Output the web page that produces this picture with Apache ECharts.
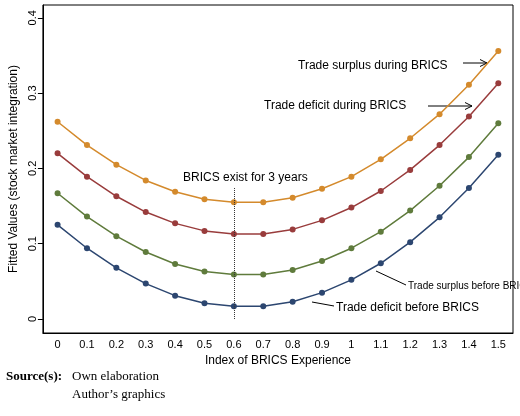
<!DOCTYPE html><html><head><meta charset="utf-8"><script src="https://cdn.jsdelivr.net/npm/echarts@6/dist/echarts.min.js"></script>
<style>body{margin:0}#c{width:520px;height:416px}</style></head><body><div id="c"></div><script>
const categories=['0','0.1','0.2','0.3','0.4','0.5','0.6','0.7','0.8','0.9','1','1.1','1.2','1.3','1.4','1.5'];
const surplusDuring=[0.262,0.231,0.205,0.184,0.169,0.159,0.155,0.155,0.161,0.173,0.189,0.212,0.240,0.272,0.311,0.356];
const deficitDuring=[0.220,0.189,0.163,0.142,0.127,0.117,0.113,0.113,0.119,0.131,0.148,0.170,0.198,0.231,0.269,0.313];
const surplusBefore=[0.167,0.136,0.110,0.089,0.073,0.063,0.059,0.059,0.065,0.077,0.094,0.116,0.144,0.177,0.215,0.260];
const deficitBefore=[0.125,0.094,0.068,0.047,0.031,0.021,0.017,0.017,0.023,0.035,0.052,0.074,0.102,0.135,0.174,0.218];
const yTicks=[0,0.1,0.2,0.3,0.4];
const c=echarts.init(document.getElementById('c'));
const ff='Liberation Sans';
function s(name,d,col){return {name,type:'line',data:d,symbol:'circle',symbolSize:6,itemStyle:{color:col},lineStyle:{color:col,width:1.5},z:3};}
function arrow(x1,y1,x2,y2){return [{type:'line',shape:{x1,y1,x2,y2},style:{stroke:'#000',lineWidth:1}},
 {type:'polyline',shape:{points:[[x2-7,y2-3.5],[x2,y2],[x2-7,y2+3.5]]},style:{stroke:'#000',fill:null,lineWidth:1}}];}
function txt(x,y,t,fs){return {type:'text',x,y,style:{text:t,font:(fs||12)+'px '+ff,fill:'#000',textVerticalAlign:'middle'}};}
c.setOption({animation:false,backgroundColor:'#fff',
grid:{left:20,right:7,top:5,bottom:83,show:true,borderColor:'#000',borderWidth:1},
xAxis:{type:'category',data:categories,boundaryGap:true,name:'Index of BRICS Experience',nameLocation:'middle',nameGap:22,
 nameTextStyle:{fontFamily:ff,fontSize:12,color:'#000'},axisLine:{onZero:false,lineStyle:{color:'#000'}},
 axisTick:{alignWithLabel:true,lineStyle:{color:'#000'}},axisLabel:{fontFamily:ff,fontSize:11,color:'#000',interval:0,margin:6}},
yAxis:{type:'value',min:-0.0186,max:0.417,name:'Fitted Values (stock market integration)',nameLocation:'middle',nameGap:-2,
 nameTextStyle:{fontFamily:ff,fontSize:12,color:'#000'},splitLine:{show:false},axisLine:{show:true,lineStyle:{color:'#000'}},
 axisTick:{show:true,customValues:yTicks,lineStyle:{color:'#000'}},
 axisLabel:{customValues:yTicks,rotate:90,fontFamily:ff,fontSize:11,color:'#000',formatter:v=>String(+v.toFixed(1)),margin:4,showMinLabel:true,showMaxLabel:true}},
series:[s('a',surplusDuring,'#d48a2c'),s('b',deficitDuring,'#993c3c'),s('c',surplusBefore,'#5f7b3c'),s('d',deficitBefore,'#2c4670'),
 {type:'line',data:[],markLine:{silent:true,symbol:'none',label:{show:false},lineStyle:{type:'dotted',color:'#333',width:1},
  data:[[{coord:['0.6',0]},{coord:['0.6',0.175]}]]}}],
graphic:[txt(183,178,'BRICS exist for 3 years'),
 txt(298,66,'Trade surplus during BRICS'),...arrow(463,63,487,63),
 txt(264,106,'Trade deficit during BRICS'),...arrow(428,106,472,106),
 txt(408,286,'Trade surplus before BRICS',10),{type:'line',shape:{x1:406,y1:285,x2:376,y2:271},style:{stroke:'#000'}},
 txt(336,308,'Trade deficit before BRICS'),{type:'line',shape:{x1:334,y1:306,x2:312,y2:302},style:{stroke:'#000'}},
 {type:'text',x:6,y:370,style:{text:'Source(s):',font:'bold 13px Liberation Serif',fill:'#000'}},
 {type:'text',x:72,y:370,style:{text:'Own elaboration',font:'13px Liberation Serif',fill:'#000'}},
 {type:'text',x:72,y:388,style:{text:'Author\u2019s graphics',font:'13px Liberation Serif',fill:'#000'}}]
});
</script></body></html>
